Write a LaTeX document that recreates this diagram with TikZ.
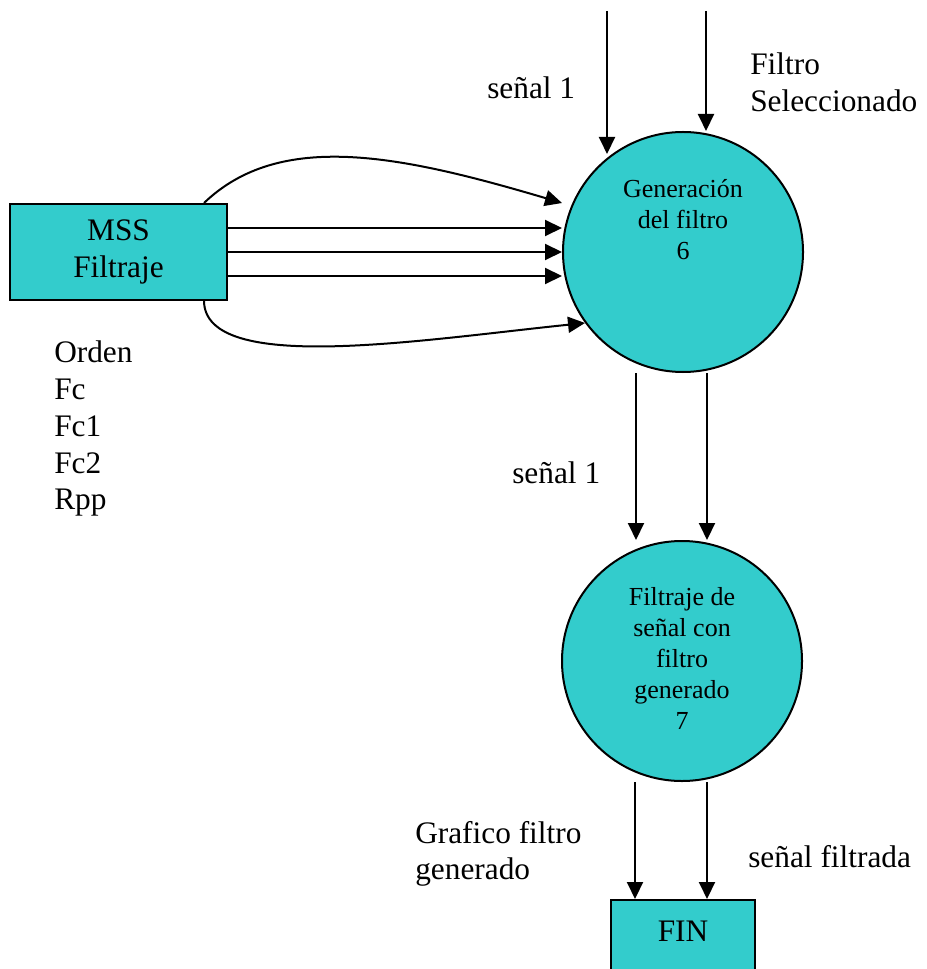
\documentclass[tikz,border=0pt]{standalone}
\usepackage{fontspec}
\setmainfont{Liberation Serif}
\usetikzlibrary{arrows.meta,calc}
\definecolor{tealfill}{HTML}{33CCCC}
\newcommand{\mylinesc}[1]{\begin{tabular}[t]{@{}c@{}}#1\end{tabular}}
\newcommand{\mylinesl}[1]{\begin{tabular}[t]{@{}l@{}}#1\end{tabular}}
\begin{document}
\begin{tikzpicture}[x=0.75pt,y=-0.75pt,
  arr/.style={line width=1.5pt,-{Triangle[length=12.75pt,width=12pt]}},
  box/.style={draw,line width=1.5pt,fill=tealfill,rectangle,inner sep=0pt},
  bubble/.style={draw,line width=1.5pt,fill=tealfill,circle,minimum size=180pt,inner sep=0pt},
  bigfont/.style={font=\fontsize{23.5}{27.5}\selectfont},
  lbl/.style={bigfont,inner sep=0pt,anchor=base west},
  ctext/.style={font=\fontsize{19.5}{23.25}\selectfont,inner sep=0pt}]

\useasboundingbox[fill=white] (0,0) rectangle (926,969);

% nodes
\node[box,bigfont,minimum width=162.75pt,minimum height=72pt] (mss) at (118.5,252) {\mylinesc{MSS\\Filtraje}};
\node[bubble] (c6) at (683,252) {};
\node[ctext,anchor=base] (t6) at (683,198) {\mylinesc{Generación\\del filtro\\6}};
\node[bubble,ctext,minimum size=180pt] (c7) at (682,661) {\mylinesc{Filtraje de\\señal con\\filtro\\generado\\7}};
\node[box,bigfont,text height=15.75pt,text depth=35pt,inner ysep=15pt,minimum width=108pt,anchor=base] (fin) at (683,941) {FIN};

% labels
\node[lbl] (s1) at (487,99) {señal 1};
\node[lbl] (fs) at (750,75) {\mylinesl{Filtro\\Seleccionado}};
\node[lbl] (params) at (54,363) {\mylinesl{Orden\\Fc\\Fc1\\Fc2\\Rpp}};
\node[lbl] (s1b) at (512,483) {señal 1};
\node[lbl] (gf) at (415,843) {\mylinesl{Grafico filtro\\generado}};
\node[lbl] (sf) at (748,867) {señal filtrada};

% incoming arrows from top
\coordinate (a1s) at (607,11);
\coordinate (a1e) at (607,154);
\coordinate (a2s) at (706,11);
\draw[arr] (a1s) -- (a1e);
\draw[arr] (a2s) -- (c6.north -| a2s);

% arrows from MSS
\coordinate (m1) at ($(mss.east)+(0,-24)$);
\coordinate (m2) at (mss.east);
\coordinate (m3) at ($(mss.east)+(0,24)$);
\draw[arr] (m1) -- (m1 -| c6.west);
\draw[arr] (m2) -- (m2 -| c6.west);
\draw[arr] (m3) -- (m3 -| c6.west);
\coordinate (ct) at ($(mss.north east)+(-24,0)$);
\coordinate (ce) at (562,203);
\draw[arr] (ct) .. controls (280,130) and (400,155) .. (ce);
\coordinate (cb) at ($(mss.south east)+(-24,0)$);
\coordinate (cbe) at (585,323);
\draw[arr] (cb) .. controls (205,375) and (420,340) .. (cbe);

% arrows between circles and to FIN
\coordinate (xl) at (636,0);
\coordinate (xr) at (707,0);
\draw[arr] (c6.south -| xl) -- (c7.north -| xl);
\draw[arr] (c6.south -| xr) -- (c7.north -| xr);
\coordinate (yl) at (635,0);
\draw[arr] (c7.south -| yl) -- (fin.north -| yl);
\draw[arr] (c7.south -| xr) -- (fin.north -| xr);
\end{tikzpicture}
\end{document}
